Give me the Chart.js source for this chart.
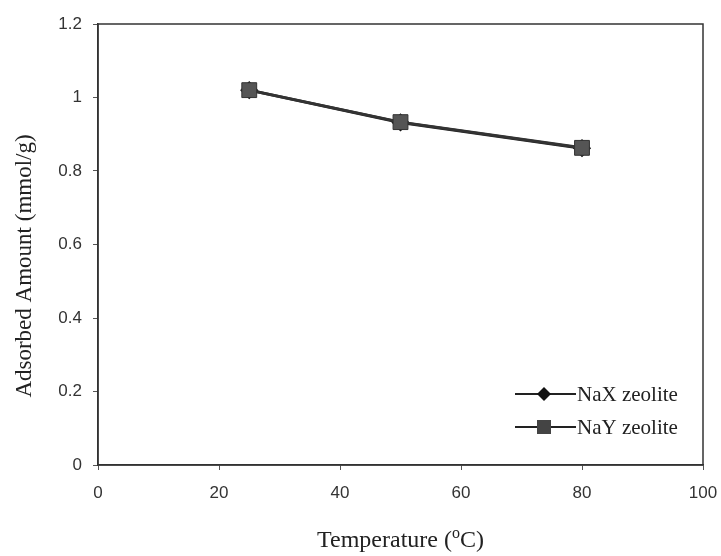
<!DOCTYPE html>
<html>
<head>
<meta charset="utf-8">
<script src="https://cdn.jsdelivr.net/npm/chart.js@4.4.1/dist/chart.umd.min.js"></script>
<style>
  html, body { margin: 0; padding: 0; background: #fff; }
  #wrap { width: 721px; height: 556px; position: relative; }
</style>
</head>
<body>
<div id="wrap"><canvas id="adsChart"></canvas></div>
<script>
// temperatures (°C) and adsorbed amounts (mmol/g)
const temps = [25, 50, 80];
const naxValues = [1.02, 0.932, 0.862];
const nayValues = [1.02, 0.933, 0.863];
const seriesNames = ['NaX zeolite', 'NaY zeolite'];
const yTicks = [0, 0.2, 0.4, 0.6, 0.8, 1, 1.2];
const xTicks = [0, 20, 40, 60, 80, 100];

const toPoints = (xs, ys) => xs.map((x, i) => ({ x: x, y: ys[i] }));
const serif = '"Liberation Serif", "Times New Roman", serif';

// frame around the plot area, legend with line through marker, axis titles
const framePlugin = {
    id: 'frame',
    afterDraw(chart) {
        const ctx = chart.ctx;
        const a = chart.chartArea;
        ctx.save();
        ctx.strokeStyle = '#333';
        ctx.lineWidth = 1.5;
        ctx.strokeRect(a.left, a.top, a.right - a.left, a.bottom - a.top);

        // legend
        const rows = [
            { label: seriesNames[0], y: 394, style: 'diamond' },
            { label: seriesNames[1], y: 427, style: 'square' }
        ];
        rows.forEach(r => {
            ctx.strokeStyle = '#222';
            ctx.lineWidth = 2;
            ctx.beginPath();
            ctx.moveTo(515, r.y);
            ctx.lineTo(576, r.y);
            ctx.stroke();
            if (r.style === 'diamond') {
                ctx.fillStyle = '#111';
                ctx.beginPath();
                ctx.moveTo(544, r.y - 7);
                ctx.lineTo(551, r.y);
                ctx.lineTo(544, r.y + 7);
                ctx.lineTo(537, r.y);
                ctx.closePath();
                ctx.fill();
            } else {
                ctx.fillStyle = '#444';
                ctx.fillRect(537, r.y - 7, 14, 14);
            }
            ctx.fillStyle = '#222';
            ctx.font = '21px ' + serif;
            ctx.textBaseline = 'middle';
            ctx.textAlign = 'left';
            ctx.fillText(r.label, 577, r.y + 1);
        });

        // y axis title
        ctx.save();
        ctx.translate(31, 266);
        ctx.rotate(-Math.PI / 2);
        ctx.font = '23px ' + serif;
        ctx.textAlign = 'center';
        ctx.textBaseline = 'alphabetic';
        ctx.fillStyle = '#222';
        ctx.fillText('Adsorbed Amount (mmol/g)', 0, 0);
        ctx.restore();

        // x axis title: Temperature (°C) with superscript o
        const cx = (a.left + a.right) / 2;
        const ty = 547;
        ctx.fillStyle = '#222';
        ctx.textBaseline = 'alphabetic';
        ctx.textAlign = 'left';
        const p1 = 'Temperature (';
        const p3 = 'C)';
        ctx.font = '16px ' + serif;
        const w2 = ctx.measureText('o').width;
        ctx.font = '24px ' + serif;
        const w1 = ctx.measureText(p1).width;
        const w3 = ctx.measureText(p3).width;
        let x = cx - (w1 + w2 + w3) / 2;
        ctx.fillText(p1, x, ty);
        x += w1;
        ctx.font = '16px ' + serif;
        ctx.fillText('o', x, ty - 9);
        x += w2;
        ctx.font = '24px ' + serif;
        ctx.fillText(p3, x, ty);
        ctx.restore();
    }
};

new Chart(document.getElementById('adsChart'), {
    type: 'scatter',
    data: {
        datasets: [{
            label: seriesNames[0],
            data: toPoints(temps, naxValues),
            order: 1,
            showLine: true,
            borderColor: '#222',
            borderWidth: 3,
            pointStyle: 'rectRot',
            pointRadius: 7,
            pointBackgroundColor: '#111',
            pointBorderColor: '#111'
        }, {
            label: seriesNames[1],
            data: toPoints(temps, nayValues),
            order: 0,
            showLine: true,
            borderColor: '#333',
            borderWidth: 3,
            pointStyle: 'rect',
            pointRadius: 10.5,
            pointBackgroundColor: '#555',
            pointBorderColor: '#333',
            pointBorderWidth: 1
        }]
    },
    options: {
        responsive: true,
        maintainAspectRatio: false,
        animation: false,
        layout: { padding: { top: 24, right: 18, left: 0, bottom: 0 } },
        plugins: {
            legend: { display: false },
            tooltip: { enabled: false }
        },
        scales: {
            x: {
                type: 'linear',
                min: 0,
                max: 100,
                afterBuildTicks: axis => { axis.ticks = xTicks.map(v => ({ value: v })); },
                afterFit: axis => { axis.height = 91; axis.paddingRight = 0; axis.paddingLeft = 0; },
                border: { color: '#333', width: 1.5 },
                grid: { drawOnChartArea: false, tickLength: 5, color: '#555' },
                ticks: {
                    color: '#333',
                    padding: 13,
                    maxRotation: 0,
                    font: { family: '"Liberation Sans", Arial, sans-serif', size: 17 }
                }
            },
            y: {
                min: 0,
                max: 1.2,
                afterBuildTicks: axis => { axis.ticks = yTicks.map(v => ({ value: v })); },
                afterFit: axis => { axis.width = 98; axis.paddingTop = 0; axis.paddingBottom = 0; },
                border: { color: '#333', width: 1.5 },
                grid: { drawOnChartArea: false, tickLength: 5, color: '#555' },
                ticks: {
                    color: '#333',
                    padding: 11,
                    callback: v => String(Math.round(v * 10) / 10),
                    font: { family: '"Liberation Sans", Arial, sans-serif', size: 17 }
                }
            }
        }
    },
    plugins: [framePlugin]
});
</script>
</body>
</html>
